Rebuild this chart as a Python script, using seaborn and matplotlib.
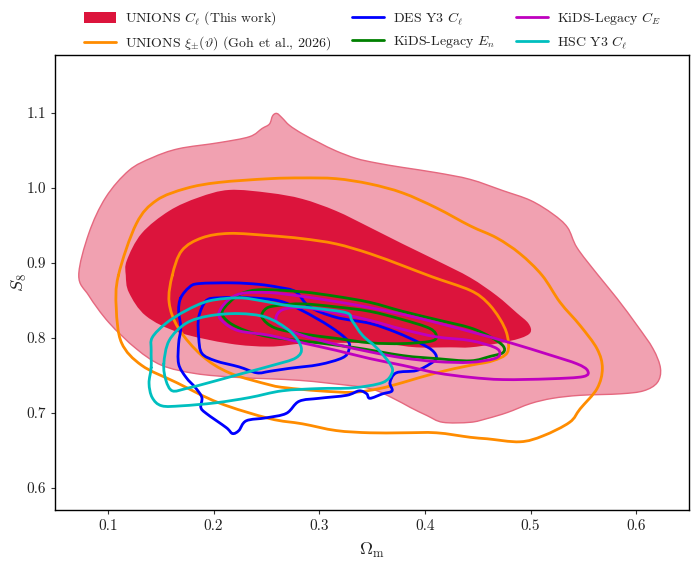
import numpy as np
import matplotlib
matplotlib.use("Agg")
import matplotlib.pyplot as plt
from matplotlib.patches import Patch, PathPatch
from matplotlib.lines import Line2D
from matplotlib.path import Path
from matplotlib.colors import to_rgba
import seaborn as sns

# ---------------- data (Omega_m, S_8 contour outlines) ----------------
unions_cl_2s_om = [0.0725, 0.082, 0.098, 0.120, 0.142, 0.167, 0.205, 0.234, 0.246, 0.253, 0.256, 0.260,
                   0.265, 0.272, 0.284, 0.300, 0.316, 0.335, 0.354, 0.379, 0.411, 0.443, 0.474, 0.500,
                   0.521, 0.535, 0.544, 0.563, 0.582, 0.601, 0.616, 0.623, 0.620, 0.607, 0.585, 0.547,
                   0.521, 0.500, 0.478, 0.459, 0.443, 0.417, 0.402, 0.386, 0.370, 0.348, 0.310, 0.281,
                   0.253, 0.221, 0.183, 0.151, 0.127, 0.101, 0.082]
unions_cl_2s_s8 = [0.883, 0.939, 0.987, 1.023, 1.040, 1.052, 1.060, 1.068, 1.079, 1.085, 1.096, 1.099,
                   1.093, 1.083, 1.072, 1.060, 1.049, 1.039, 1.033, 1.027, 1.020, 1.011, 0.996, 0.983,
                   0.965, 0.947, 0.920, 0.885, 0.852, 0.816, 0.785, 0.759, 0.740, 0.729, 0.725, 0.723,
                   0.719, 0.712, 0.700, 0.692, 0.687, 0.687, 0.696, 0.707, 0.719, 0.732, 0.739, 0.743,
                   0.745, 0.747, 0.752, 0.763, 0.785, 0.820, 0.856]

unions_cl_1s_om = [0.117, 0.118, 0.132, 0.158, 0.186, 0.215, 0.253, 0.284, 0.316, 0.348, 0.379, 0.411,
                   0.443, 0.468, 0.487, 0.498, 0.500, 0.490, 0.468, 0.443, 0.424, 0.392, 0.360, 0.316,
                   0.284, 0.253, 0.215, 0.167, 0.136, 0.120]
unions_cl_1s_s8 = [0.883, 0.903, 0.939, 0.969, 0.987, 0.997, 0.993, 0.985, 0.969, 0.947, 0.925, 0.903,
                   0.880, 0.856, 0.833, 0.819, 0.807, 0.799, 0.792, 0.787, 0.787, 0.787, 0.792, 0.793,
                   0.792, 0.788, 0.792, 0.807, 0.829, 0.860]

unions_xi_2s_om = [0.110, 0.127, 0.146, 0.174, 0.205, 0.253, 0.284, 0.316, 0.348, 0.379, 0.411, 0.443,
                   0.468, 0.490, 0.511, 0.528, 0.547, 0.563, 0.568, 0.563, 0.547, 0.537, 0.512, 0.490,
                   0.459, 0.443, 0.411, 0.379, 0.348, 0.316, 0.284, 0.253, 0.205, 0.165, 0.132, 0.113,
                   0.108]
unions_xi_2s_s8 = [0.883, 0.952, 0.983, 0.999, 1.007, 1.012, 1.013, 1.012, 1.005, 0.993, 0.973, 0.949,
                   0.933, 0.912, 0.883, 0.847, 0.816, 0.785, 0.759, 0.732, 0.705, 0.687, 0.669, 0.661,
                   0.665, 0.667, 0.673, 0.673, 0.673, 0.676, 0.685, 0.692, 0.713, 0.740, 0.763, 0.793,
                   0.839]

unions_xi_1s_om = [0.161, 0.170, 0.189, 0.215, 0.253, 0.284, 0.316, 0.348, 0.379, 0.407, 0.443, 0.459,
                   0.471, 0.478, 0.478, 0.464, 0.443, 0.411, 0.379, 0.357, 0.332, 0.300, 0.269, 0.253,
                   0.215, 0.189, 0.167, 0.158]
unions_xi_1s_s8 = [0.883, 0.916, 0.933, 0.939, 0.936, 0.932, 0.925, 0.912, 0.896, 0.881, 0.863, 0.847,
                   0.825, 0.803, 0.780, 0.769, 0.763, 0.753, 0.740, 0.732, 0.727, 0.729, 0.733, 0.737,
                   0.753, 0.776, 0.812, 0.847]

des_2s_om = [0.169, 0.177, 0.186, 0.218, 0.243, 0.262, 0.278, 0.291, 0.316, 0.348, 0.373, 0.395,
             0.407, 0.411, 0.405, 0.392, 0.373, 0.367, 0.369, 0.360, 0.348, 0.345, 0.338, 0.326,
             0.300, 0.281, 0.269, 0.250, 0.231, 0.224, 0.218, 0.212, 0.193, 0.188, 0.189, 0.183,
             0.174, 0.167, 0.167, 0.169, 0.167]
des_2s_s8 = [0.853, 0.867, 0.872, 0.873, 0.871, 0.867, 0.861, 0.841, 0.827, 0.819, 0.807, 0.793,
             0.783, 0.773, 0.765, 0.756, 0.753, 0.740, 0.729, 0.725, 0.719, 0.725, 0.729, 0.723,
             0.719, 0.715, 0.699, 0.693, 0.689, 0.676, 0.672, 0.680, 0.699, 0.707, 0.720, 0.733,
             0.747, 0.765, 0.792, 0.813, 0.836]

des_1s_om = [0.193, 0.205, 0.234, 0.262, 0.284, 0.310, 0.327, 0.328, 0.322, 0.300, 0.272, 0.253,
             0.241, 0.224, 0.202, 0.189, 0.186, 0.186]
des_1s_s8 = [0.849, 0.853, 0.853, 0.849, 0.836, 0.815, 0.796, 0.783, 0.773, 0.764, 0.759, 0.755,
             0.753, 0.761, 0.769, 0.779, 0.800, 0.827]

kids_en_2s_om = [0.208, 0.215, 0.227, 0.246, 0.284, 0.316, 0.348, 0.379, 0.411, 0.443, 0.462, 0.474,
                 0.474, 0.462, 0.443, 0.411, 0.379, 0.332, 0.281, 0.253, 0.231, 0.215]
kids_en_2s_s8 = [0.833, 0.847, 0.859, 0.864, 0.861, 0.855, 0.847, 0.835, 0.824, 0.813, 0.801, 0.789,
                 0.780, 0.775, 0.769, 0.772, 0.776, 0.787, 0.796, 0.801, 0.809, 0.820]

kids_en_1s_om = [0.246, 0.250, 0.262, 0.284, 0.316, 0.348, 0.379, 0.405, 0.411, 0.405, 0.379, 0.348,
                 0.316, 0.284, 0.258]
kids_en_1s_s8 = [0.827, 0.839, 0.843, 0.845, 0.841, 0.835, 0.824, 0.812, 0.801, 0.795, 0.792, 0.793,
                 0.799, 0.805, 0.813]

kids_ce_2s_om = [0.205, 0.213, 0.227, 0.253, 0.284, 0.316, 0.348, 0.379, 0.411, 0.443, 0.481, 0.518,
                 0.544, 0.554, 0.550, 0.518, 0.474, 0.443, 0.411, 0.379, 0.348, 0.316, 0.284, 0.253,
                 0.224, 0.210]
kids_ce_2s_s8 = [0.832, 0.849, 0.859, 0.860, 0.855, 0.848, 0.840, 0.831, 0.820, 0.808, 0.793, 0.777,
                 0.765, 0.756, 0.748, 0.745, 0.744, 0.747, 0.753, 0.763, 0.772, 0.783, 0.793, 0.803,
                 0.809, 0.820]

kids_ce_1s_om = [0.259, 0.265, 0.284, 0.316, 0.348, 0.379, 0.411, 0.443, 0.466, 0.471, 0.466, 0.443,
                 0.411, 0.379, 0.348, 0.316, 0.284, 0.265]
kids_ce_1s_s8 = [0.825, 0.837, 0.840, 0.833, 0.823, 0.811, 0.801, 0.796, 0.787, 0.779, 0.772, 0.767,
                 0.768, 0.773, 0.781, 0.791, 0.803, 0.815]

hsc_2s_om = [0.141, 0.141, 0.142, 0.155, 0.174, 0.196, 0.224, 0.246, 0.269, 0.297, 0.326, 0.331,
             0.341, 0.354, 0.367, 0.369, 0.360, 0.332, 0.300, 0.265, 0.234, 0.202, 0.170, 0.151,
             0.142, 0.139]
hsc_2s_s8 = [0.760, 0.783, 0.800, 0.819, 0.836, 0.849, 0.853, 0.849, 0.843, 0.839, 0.833, 0.823,
             0.803, 0.787, 0.765, 0.753, 0.740, 0.733, 0.732, 0.729, 0.720, 0.713, 0.709, 0.709,
             0.720, 0.739]

hsc_1s_om = [0.153, 0.158, 0.174, 0.196, 0.224, 0.250, 0.272, 0.283, 0.278, 0.256, 0.227, 0.196,
             0.174, 0.161, 0.155]
hsc_1s_s8 = [0.765, 0.796, 0.819, 0.829, 0.832, 0.827, 0.809, 0.787, 0.773, 0.763, 0.752, 0.740,
             0.732, 0.729, 0.743]

legend_labels = [r"UNIONS $C_\ell$ (This work)",
                 r"UNIONS $\xi_{\pm}(\vartheta)$ (Goh et al., 2026)",
                 r"DES Y3 $C_\ell$",
                 r"KiDS-Legacy $E_n$",
                 r"KiDS-Legacy $C_E$",
                 r"HSC Y3 $C_\ell$"]
x_ticks = [0.1, 0.2, 0.3, 0.4, 0.5, 0.6]
y_ticks = [0.6, 0.7, 0.8, 0.9, 1.0, 1.1]

# ---------------- style ----------------
sns.set_theme(style="white")
plt.rcParams.update({
    "font.family": "serif",
    "font.serif": ["cmr10"],
    "mathtext.fontset": "cm",
    "axes.formatter.use_mathtext": True,
    "axes.edgecolor": "black",
    "axes.linewidth": 1.0,
    "xtick.bottom": True,
    "ytick.left": True,
    "xtick.major.size": 3,
    "ytick.major.size": 3,
    "xtick.major.width": 0.8,
    "ytick.major.width": 0.8,
})

CRIMSON = "#DC143C"
ORANGE = "#FF8C00"
BLUE = "#0000FF"
GREEN = "#008000"
MAGENTA = "#BF00BF"
CYAN = "#00BFBF"

fig = plt.figure(figsize=(6.92, 5.62), dpi=100)
ax = fig.add_axes([55 / 692, 1 - 510 / 562, 634 / 692, 455 / 562])


def smooth_closed_path(xs, ys):
    """Closed cubic (Catmull-Rom style) path through the traced outline points."""
    p = np.column_stack([xs, ys]).astype(float)
    n = len(p)
    verts = [p[0]]
    codes = [Path.MOVETO]
    for i in range(n):
        p0, p1, p2, p3 = p[i - 1], p[i], p[(i + 1) % n], p[(i + 2) % n]
        verts += [p1 + (p2 - p0) / 6.0, p2 - (p3 - p1) / 6.0, p2]
        codes += [Path.CURVE4] * 3
    return Path(np.array(verts), codes)


# filled UNIONS C_ell contours
ax.add_patch(PathPatch(smooth_closed_path(unions_cl_2s_om, unions_cl_2s_s8),
                       facecolor=to_rgba(CRIMSON, 0.4), edgecolor="#E5687F",
                       lw=1.0, zorder=1))
ax.add_patch(PathPatch(smooth_closed_path(unions_cl_1s_om, unions_cl_1s_s8),
                       facecolor=CRIMSON, edgecolor="none", zorder=2))

line_sets = [
    (ORANGE, [(unions_xi_2s_om, unions_xi_2s_s8), (unions_xi_1s_om, unions_xi_1s_s8)]),
    (BLUE, [(des_2s_om, des_2s_s8), (des_1s_om, des_1s_s8)]),
    (GREEN, [(kids_en_2s_om, kids_en_2s_s8), (kids_en_1s_om, kids_en_1s_s8)]),
    (MAGENTA, [(kids_ce_2s_om, kids_ce_2s_s8), (kids_ce_1s_om, kids_ce_1s_s8)]),
    (CYAN, [(hsc_2s_om, hsc_2s_s8), (hsc_1s_om, hsc_1s_s8)]),
]
z = 3
for color, contours in line_sets:
    for xs, ys in contours:
        ax.add_patch(PathPatch(smooth_closed_path(xs, ys), facecolor="none",
                               edgecolor=color, lw=2.0, zorder=z,
                               joinstyle="round", capstyle="round"))
    z += 1

ax.set_xlim(0.05, 0.65)
ax.set_ylim(0.57, 1.177)
ax.set_xticks(x_ticks)
ax.set_yticks(y_ticks)
ax.set_xticklabels([f"{v:.1f}" for v in x_ticks])
ax.set_yticklabels([f"{v:.1f}" for v in y_ticks])
ax.tick_params(labelsize=11, colors="#333333", labelcolor="#222222")
for sp in ax.spines.values():
    sp.set_visible(True)
    sp.set_color("black")
ax.set_xlabel(r"$\Omega_{\rm m}$", fontsize=13, color="#222222", labelpad=6)
ax.set_ylabel(r"$S_8$", fontsize=13, color="#222222", labelpad=-2)

handles = [Patch(facecolor=CRIMSON, edgecolor="none"),
           Line2D([], [], color=ORANGE, lw=2),
           Line2D([], [], color=BLUE, lw=2),
           Line2D([], [], color=GREEN, lw=2),
           Line2D([], [], color=MAGENTA, lw=2),
           Line2D([], [], color=CYAN, lw=2)]
leg = ax.legend(handles, legend_labels, ncol=3, loc="lower center",
                bbox_to_anchor=(0.5, 0.985), frameon=False, fontsize=10,
                handlelength=2.3, handleheight=0.85, handletextpad=0.65,
                columnspacing=1.5, labelspacing=0.5, borderaxespad=0.3)
for t in leg.get_texts():
    t.set_color("#222222")

fig.savefig("out.png", dpi=100)
